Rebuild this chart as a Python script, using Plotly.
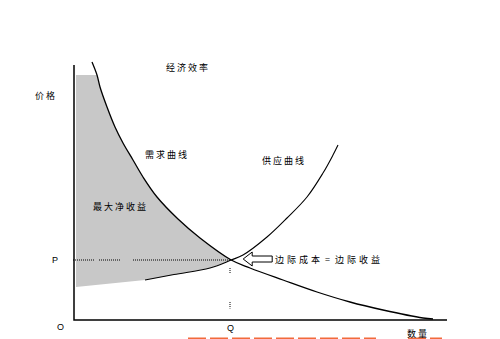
import plotly.graph_objects as go

# ---- data (economic units: quantity, price) ----
demand_q = [0.45, 0.575, 0.65, 0.825, 1.025, 1.225, 1.475, 1.725, 2.075, 2.6, 3.15, 3.93, 4.4, 5.225, 6.075, 6.9, 7.725, 8.725, 8.975]
demand_p = [10.32, 9.8, 9.32, 8.52, 7.72, 7.08, 6.4, 5.72, 4.92, 4.04, 3.28, 2.4, 2.08, 1.6, 1.12, 0.72, 0.4, 0.08, 0.04]
supply_q = [1.775, 2.5, 3.4, 3.93, 4.225, 4.825, 5.325, 5.825, 6.225, 6.475, 6.6]
supply_p = [1.6, 1.82, 2.08, 2.4, 2.6, 3.32, 4.08, 4.92, 5.88, 6.6, 7.0]
eq_q = 3.93   # Q
eq_p = 2.4    # P
shade_top = 9.8
shade_left = 0.05
shade_supply_ext_p = 1.32
axis_q_max = 9.325
axis_p_max = 10.2

W, H = 500, 339
X0, Y0, SX, SY = 74, 320, 40.0, 25.0  # pixel mapping of origin and scale
xr = [-X0 / SX, (W - X0) / SX]
yr = [(Y0 - H) / SY, Y0 / SY]

def dq(px):  # pixel offset -> quantity offset
    return px / SX

def dp(py):  # pixel offset (down positive) -> price offset
    return -py / SY

fig = go.Figure()

# shaded area (maximum net benefit)
sx = [shade_left]
sy = [shade_top]
for q, p in zip(demand_q, demand_p):
    if p <= shade_top and q <= eq_q:
        sx.append(q); sy.append(p)
for q, p in reversed(list(zip(supply_q, supply_p))):
    if q < eq_q:
        sx.append(q); sy.append(p)
sx += [shade_left, shade_left]
sy += [shade_supply_ext_p, shade_top]
fig.add_trace(go.Scatter(x=sx, y=sy, fill="toself", fillcolor="#c8c8c8",
                         line=dict(width=0), mode="lines", hoverinfo="skip"))

# axes
fig.add_trace(go.Scatter(x=[0, 0, axis_q_max], y=[axis_p_max, 0, 0], mode="lines",
                         line=dict(color="black", width=1.5)))

# dotted guides
for a, b in [(-0.025, 0.525), (0.625, 1.15), (1.475, eq_q)]:
    fig.add_trace(go.Scatter(x=[a, b], y=[eq_p, eq_p], mode="lines",
                             line=dict(color="black", width=1, dash="1px,1px")))
for a, b in [(2.08, 1.85), (0.72, 0.46)]:
    fig.add_trace(go.Scatter(x=[eq_q - 0.03, eq_q - 0.03], y=[a, b], mode="lines",
                             line=dict(color="black", width=1, dash="1px,1px")))

# curves
fig.add_trace(go.Scatter(x=demand_q, y=demand_p, mode="lines",
                         line=dict(color="black", width=1.3, shape="spline")))
fig.add_trace(go.Scatter(x=supply_q, y=supply_p, mode="lines",
                         line=dict(color="black", width=1.1, shape="spline")))

# hollow arrow pointing at equilibrium
ax_off = [(12, -1), (21, -8), (21, -4), (41, -4), (41, 2), (21, 2), (21, 6), (12, -1)]
fig.add_trace(go.Scatter(x=[eq_q + dq(a) for a, b in ax_off],
                         y=[eq_p + dp(b) for a, b in ax_off],
                         mode="lines", fill="toself", fillcolor="white",
                         line=dict(color="black", width=1)))

cjk = "Noto Sans CJK SC"
def label(text, x, y, anchor="center", size=9, family=cjk):
    fig.add_annotation(x=x / W, y=1 - y / H, xref="paper", yref="paper",
                       text=text, showarrow=False, xanchor=anchor, yanchor="middle",
                       font=dict(family=family, size=size, color="black"))

sp = "\u2004"
label("经 济 效 率", 187, 68)
label("价 格", 45, 95)
label("需 求 曲 线", 166, 154)
label("供 应 曲 线", 283, 161)
label("最 大 净 收 益", 119, 207)
label(sp.join("边际成本") + sp + " = " + sp + sp.join("边际收益"), 273, 259, anchor="left")
label("P", 55, 260, family="Liberation Sans")
label("O", 60, 327, family="Liberation Sans")
label("Q", 230, 328, family="Liberation Sans")
label("数 量", 417, 333)

# red dashed line at bottom
for a, b in [(188, 376), (408, 442)]:
    fig.add_shape(type="line", xref="paper", yref="paper",
                  x0=a / W, x1=b / W, y0=1 - 338.5 / H, y1=1 - 338.5 / H,
                  line=dict(color="#f26a3a", width=2, dash="18px,4px"))

fig.update_layout(width=W, height=H, margin=dict(l=0, r=0, t=0, b=0),
                  paper_bgcolor="white", plot_bgcolor="white", showlegend=False,
                  xaxis=dict(range=xr, visible=False, fixedrange=True),
                  yaxis=dict(range=yr, visible=False, fixedrange=True))
fig.write_html("out.html")
